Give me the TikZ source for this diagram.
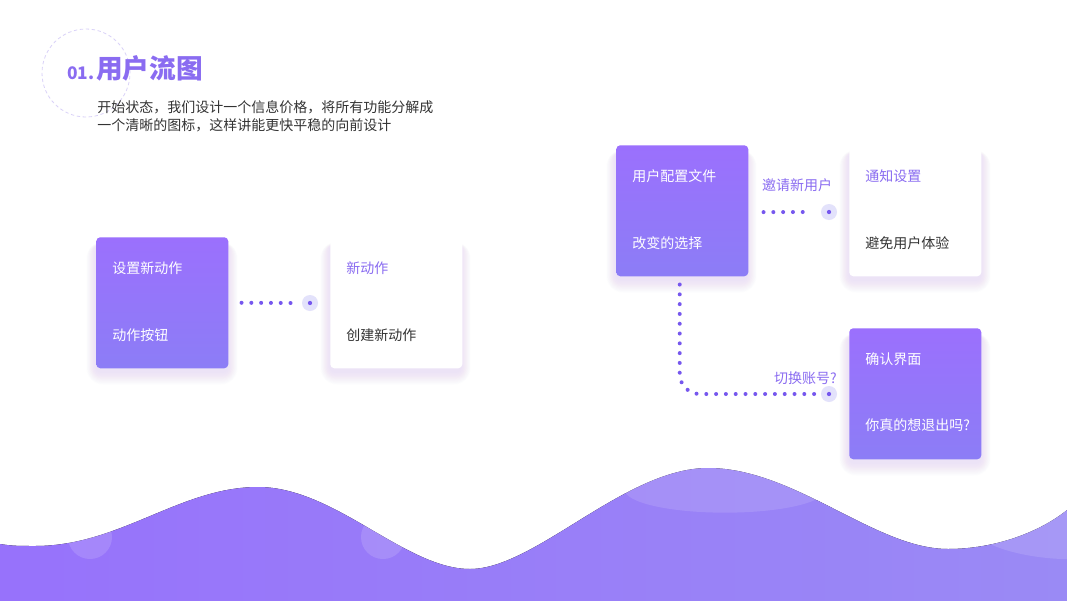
\documentclass[tikz,border=0pt]{standalone}
\usepackage{fontspec}
\setmainfont{Noto Sans CJK SC}
\usetikzlibrary{calc}
\definecolor{pur}{HTML}{8A6CF1}
\definecolor{ctop}{HTML}{9B70FD}
\definecolor{cbot}{HTML}{8C7DF6}
\definecolor{dotc}{HTML}{7657EE}
\definecolor{knobc}{HTML}{E3E2FB}
\definecolor{txt}{HTML}{333333}
\definecolor{shadowc}{HTML}{A593F6}
\definecolor{wavea}{HTML}{9772FB}
\definecolor{waveb}{HTML}{9A8AF5}
\definecolor{ringc}{HTML}{D9D1F8}
\newcommand\cardshade[4]{%
  \foreach \i in {1,...,16}{%
    \fill[shadowc, opacity=0.011, rounded corners={(4+\i*0.8)*0.75pt}]
      ({#1-\i*0.6},{#2-\i*0.2+8}) rectangle ({#3+\i*0.6},{#4+\i*0.8+4});}}
\begin{document}
\begin{tikzpicture}[x=0.75pt,y=-0.75pt,
  purplecard/.style={rectangle, rounded corners=3pt, top color=ctop, bottom color=cbot,
     minimum width=99pt, minimum height=98.25pt, anchor=north west, inner sep=0pt},
  whitecard/.style={rectangle, rounded corners=3pt, fill=white,
     minimum width=99pt, minimum height=98.25pt, anchor=north west, inner sep=0pt},
  cardtext/.style={anchor=west, inner sep=0pt, font=\fontsize{10.5}{12}\selectfont},
  wtext/.style={cardtext, text=white},
  ptext/.style={cardtext, text=pur},
  dtext/.style={cardtext, text=txt},
  knob/.style={circle, fill=knobc, minimum size=12pt, inner sep=0pt},
  dotline/.style={draw=dotc, line width=3pt, line cap=round, dash pattern=on 0pt off 7.35pt},
]
\useasboundingbox (0,0) rectangle (1067,600);
\fill[white] (0,0) rectangle (1067,600);

% wave
\fill[left color=wavea, right color=waveb]
  (0,544) .. controls (12,546) and (20,546) .. (35,546)
  .. controls (120,546) and (180,487) .. (258,487)
  .. controls (335,487) and (405,569) .. (470,569)
  .. controls (535,569) and (625,468) .. (708,468)
  .. controls (795,468) and (875,549) .. (948,549)
  .. controls (995,549) and (1040,532) .. (1067,510)
  -- (1070,510) -- (1070,606) -- (-3,606) -- (-3,544) -- cycle;
\fill[white, opacity=0.14] (90,537) circle (16.5pt);
\fill[white, opacity=0.14] (383,537) circle (16.5pt);
\fill[white, opacity=0.12] (725,490) ellipse (75pt and 17pt);
\fill[white, opacity=0.12] (1075,518) ellipse (82pt and 31pt);

% title
\draw[ringc, dashed, line width=0.6pt, dash pattern=on 2.5pt off 2pt] (86,73) circle (33pt);
\node[anchor=base west, inner sep=0pt, text=pur, font=\fontsize{13}{14}\bfseries\selectfont] (num) at (67,79) {01.};
\node[anchor=west, inner sep=0pt, text=pur, font=\fontsize{20}{24}\bfseries\selectfont] (title) at (96,68) {用户流图};
\node[anchor=west, inner sep=0pt, text=txt, font=\fontsize{10.5}{12}\selectfont] (sub1) at (97,107) {开始状态，我们设计一个信息价格，将所有功能分解成};
\node[anchor=west, inner sep=0pt, text=txt, font=\fontsize{10.5}{12}\selectfont] (sub2) at (97,125) {一个清晰的图标，这样讲能更快平稳的向前设计};

% shadows
\cardshade{96}{237}{228}{368}
\cardshade{330}{237}{461}{368}
\cardshade{616}{145}{747}{276}
\cardshade{849}{145}{981}{276}
\cardshade{849}{328}{981}{459}

% cards
\node[purplecard] (c1) at (96,237) {};
\node[whitecard] (c2) at (330,237) {};
\node[purplecard] (c3) at (616,145) {};
\node[whitecard] (c4) at (849,145) {};
\node[purplecard] (c5) at (849,328) {};

\node[wtext] (t1a) at (112,268) {设置新动作};
\node[wtext] (t1b) at (112,335) {动作按钮};
\node[ptext] (t2a) at (346,268) {新动作};
\node[dtext] (t2b) at (346,335) {创建新动作};
\node[wtext] (t3a) at (632,176) {用户配置文件};
\node[wtext] (t3b) at (632,243) {改变的选择};
\node[ptext] (t4a) at (865,176) {通知设置};
\node[dtext] (t4b) at (865,243) {避免用户体验};
\node[wtext] (t5a) at (865,359) {确认界面};
\node[wtext] (t5b) at (865,425) {你真的想退出吗?};

% knobs
\node[knob] (k1) at (310,303) {};
\node[knob] (k2) at (829,212) {};
\node[knob] (k3) at (829,394) {};
\foreach \k in {k1,k2,k3} \fill[dotc] (\k) circle (1.6pt);

% connectors
\draw[dotline] ([xshift=9.75pt]c1.east) -- ([xshift=-8.25pt]k1.west);
\draw[dotline] ([xshift=11.25pt,yshift=-1pt]c3.east) -- ([xshift=-8.25pt]k2.west);
\draw[dotline, rounded corners=15pt] ([xshift=-1.9pt,yshift=-6pt]c3.south) |- ([xshift=-4pt]k3.west);

% labels
\node[anchor=center, inner sep=0pt, text=pur, font=\fontsize{10.5}{12}\selectfont] (l1) at (797,185) {邀请新用户};
\node[anchor=east, inner sep=0pt, text=pur, font=\fontsize{10.5}{12}\selectfont] (l2) at (837,378) {切换账号?};
\end{tikzpicture}
\end{document}
